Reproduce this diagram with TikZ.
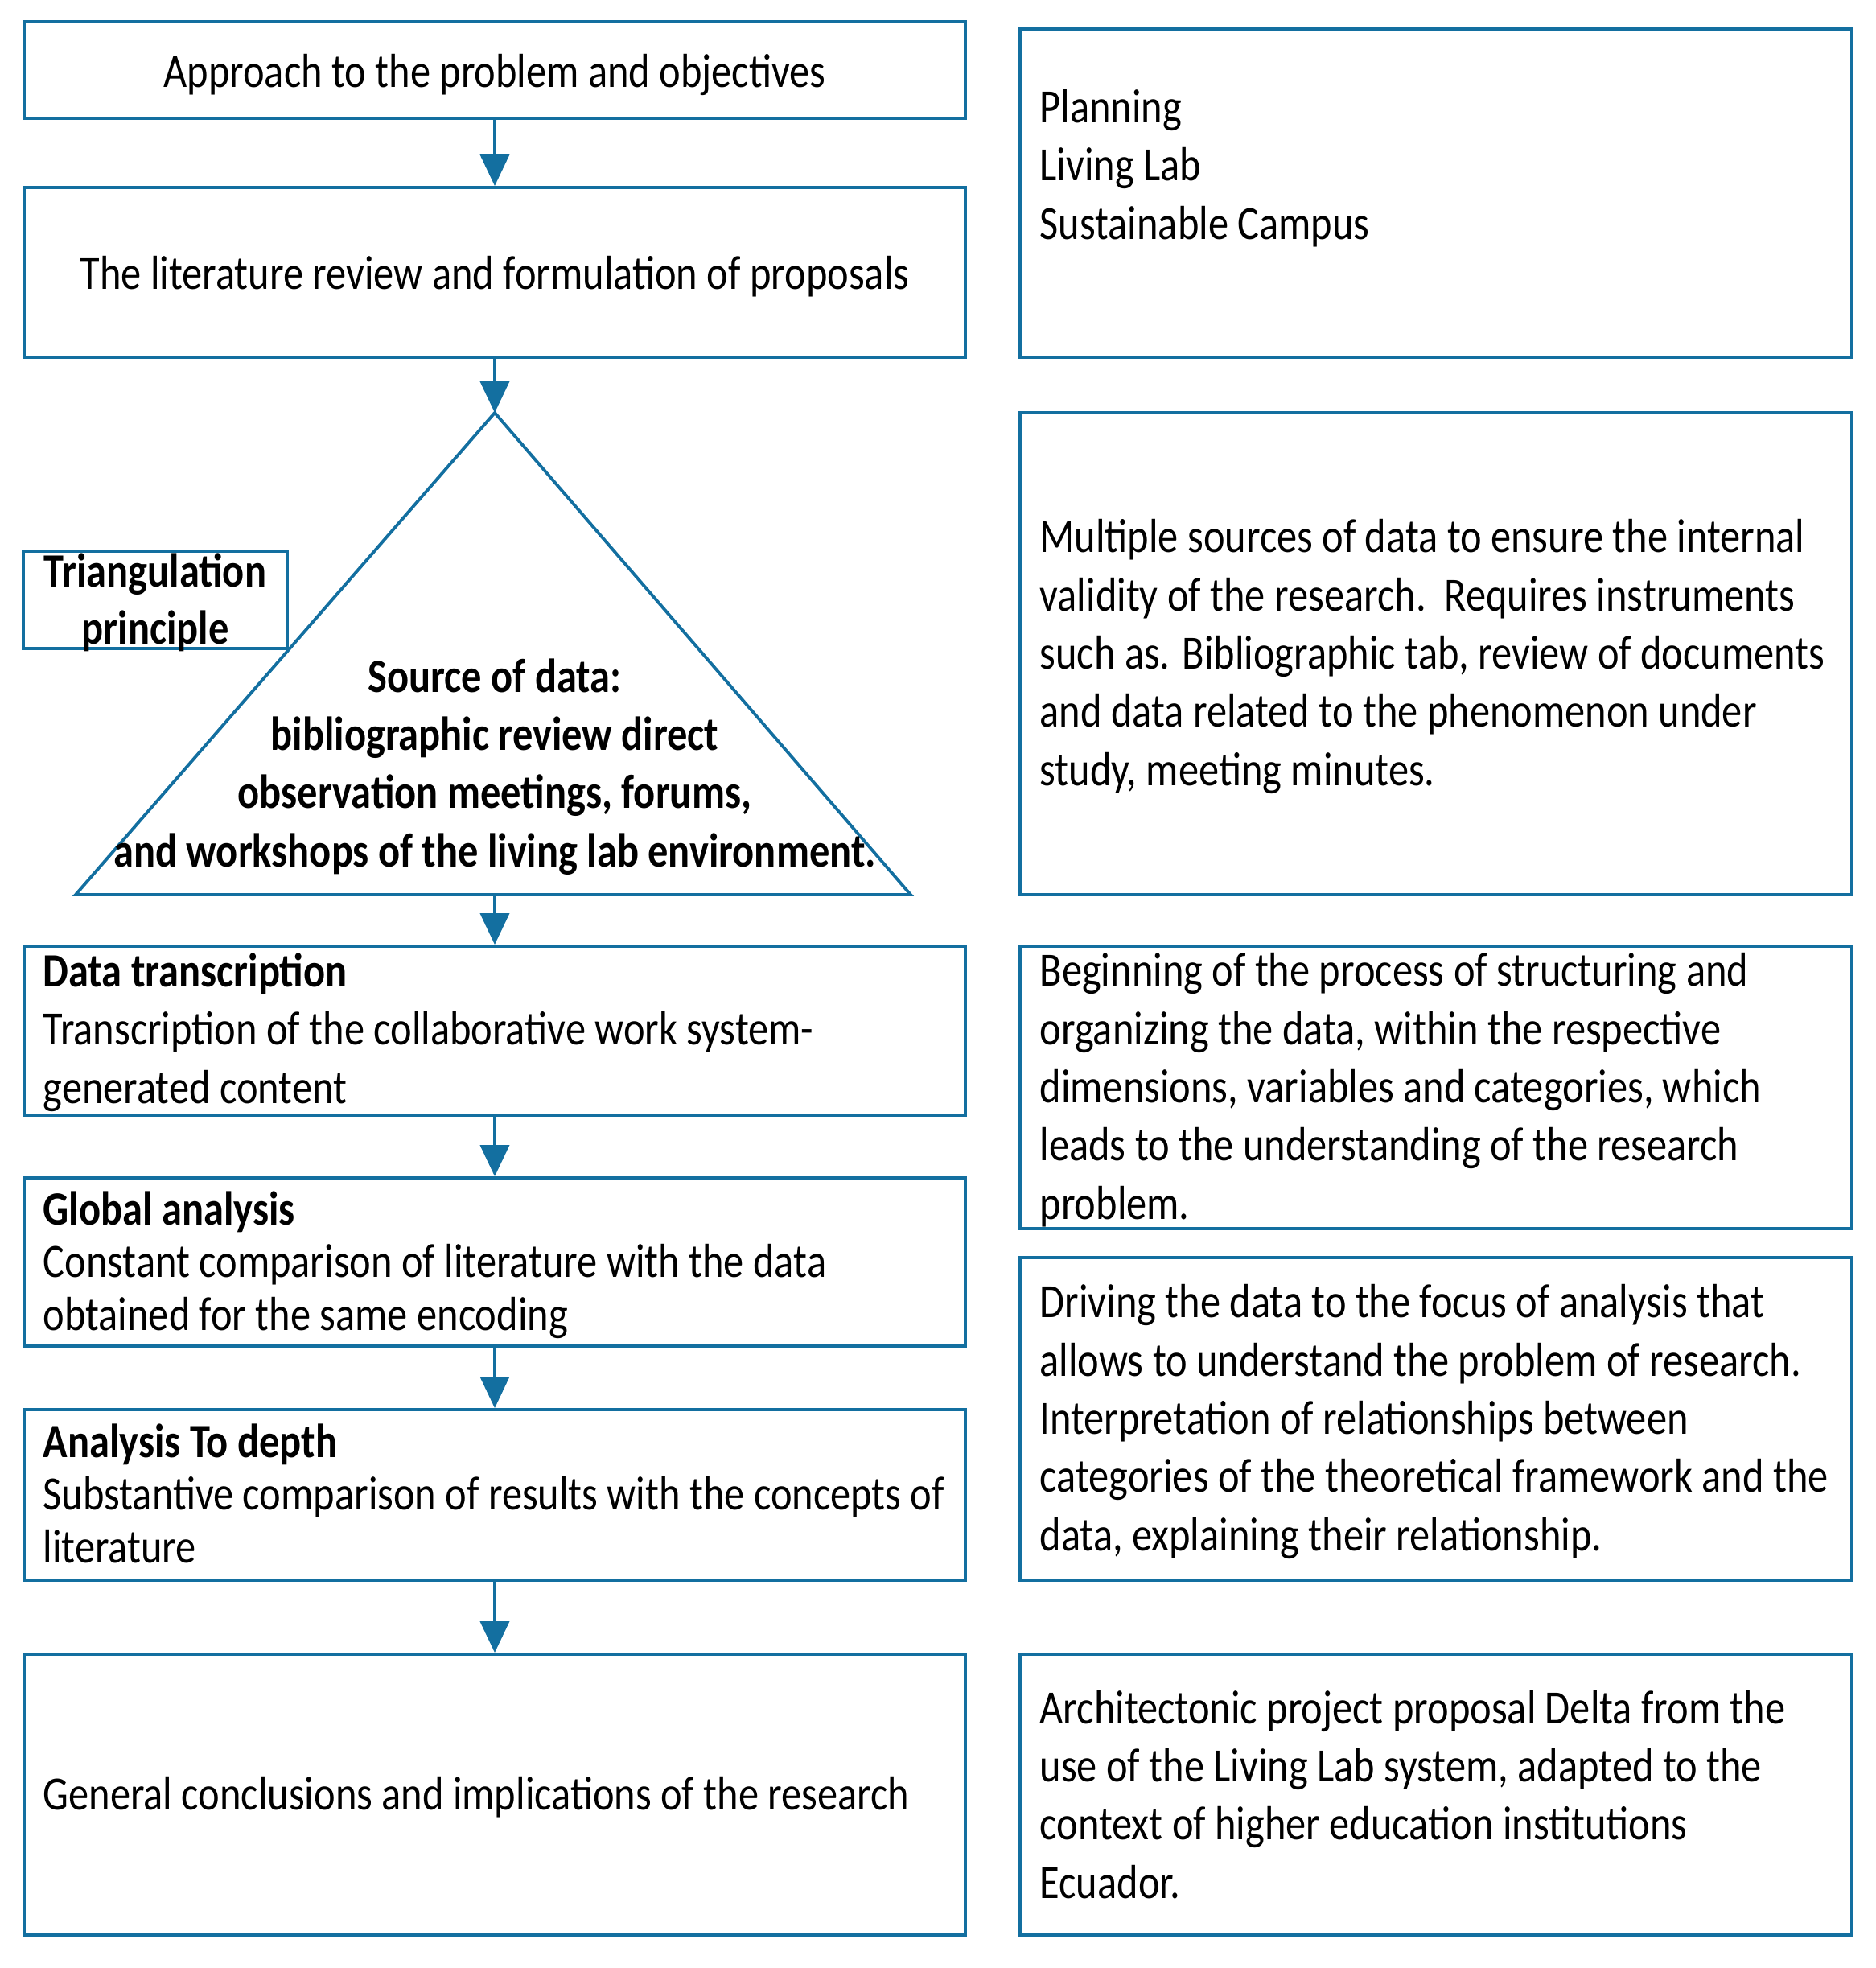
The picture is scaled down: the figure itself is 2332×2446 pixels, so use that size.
\documentclass[tikz,border=0pt]{standalone}
\usepackage{fontspec}
\setmainfont{Carlito}[FakeStretch=0.85]
\usetikzlibrary{arrows.meta,fit}
\definecolor{frameblue}{HTML}{136FA0}
\begin{document}
\begin{tikzpicture}[x=0.3pt,y=-0.3pt,
  box/.style={draw=frameblue,line width=1.15pt,inner sep=0pt,rectangle},
  txt/.style={font=\fontsize{17.8pt}{21.7pt}\selectfont,inner sep=0pt,align=left,anchor=base west},
  txtt/.style={font=\fontsize{17.8pt}{19.6pt}\selectfont,inner sep=0pt,align=left,anchor=base west},
  txtc/.style={font=\fontsize{17.8pt}{21.7pt}\selectfont,inner sep=0pt,align=center,anchor=base},
  arr/.style={draw=frameblue,line width=1.15pt,-{Triangle[width=10.8pt,length=11.7pt]}}]
\useasboundingbox (0,0) rectangle (2332,2446);

% left column boxes
\node[box,fit={(30,27)(1200,147)}] (b1) {};
\node[box,fit={(30,233)(1200,444)}] (b2) {};
\node[box,fit={(30,1176)(1200,1386)}] (dt) {};
\node[box,fit={(30,1464)(1200,1673)}] (ga) {};
\node[box,fit={(30,1752)(1200,1964)}] (ad) {};
\node[box,fit={(30,2056)(1200,2405)}] (gc) {};

% right column boxes
\node[box,fit={(1268,36)(2302,444)}] (r1) {};
\node[box,fit={(1268,513)(2302,1112)}] (r2) {};
\node[box,fit={(1268,1176)(2302,1527)}] (r3) {};
\node[box,fit={(1268,1563)(2302,1964)}] (r4) {};
\node[box,fit={(1268,2056)(2302,2405)}] (r5) {};

% triangle
\coordinate (apex) at (615,513);
\coordinate (tl) at (94,1112);
\coordinate (tr) at (1132,1112);
\coordinate (tb) at (615,1112);
\draw[frameblue,line width=1.15pt,line join=miter] (apex) -- (tr) -- (tl) -- cycle;

% triangulation box
\node[box,fit={(29,685)(357,806)}] (tp) {};

% texts (anchor = baseline of the last line)
\node[txtc] (t1) at (615,108) {Approach to the problem and objectives};
\node[txtc] (t2) at (615,359) {The literature review and formulation of proposals};
\node[txtc,font=\fontsize{17.8pt}{21.3pt}\selectfont\bfseries] (ttp) at (193,800) {Triangulation\\principle};
\node[txtc,font=\fontsize{17.8pt}{21.7pt}\selectfont\bfseries] (ttr) at (615,1077) {Source of data:\\bibliographic review direct\\observation meetings, forums,\\and workshops of the living lab environment.};
\node[txt] (tdt) at (53,1371) {\textbf{Data transcription}\\Transcription of the collaborative work system-\\generated content};
\node[txtt] (tga) at (53,1653) {\textbf{Global analysis}\\Constant comparison of literature with the data\\obtained for the same encoding};
\node[txtt] (tad) at (53,1942) {\textbf{Analysis To depth}\\Substantive comparison of results with the concepts of\\literature};
\node[txt] (tgc) at (53,2249) {General conclusions and implications of the research};

\node[txt] (tr1) at (1292,297) {Planning\\Living Lab\\Sustainable Campus};
\node[txt] (tr2) at (1292,976) {Multiple sources of data to ensure the internal\\validity of the research.\ \ Requires instruments\\such as. Bibliographic tab, review of documents\\and data related to the phenomenon under\\study, meeting minutes.};
\node[txt] (tr3) at (1292,1515) {Beginning of the process of structuring and\\organizing the data, within the respective\\dimensions, variables and categories, which\\leads to the understanding of the research\\problem.};
\node[txt] (tr4) at (1292,1927) {Driving the data to the focus of analysis that\\allows to understand the problem of research.\\Interpretation of relationships between\\categories of the theoretical framework and the\\data, explaining their relationship.};
\node[txt] (tr5) at (1292,2359) {Architectonic project proposal Delta from the\\use of the Living Lab system, adapted to the\\context of higher education institutions\\Ecuador.};

% arrows
\draw[arr] (b1.south) -- (b2.north);
\draw[arr] (b2.south) -- (apex);
\draw[arr] (tb) -- (dt.north);
\draw[arr] (dt.south) -- (ga.north);
\draw[arr] (ga.south) -- (ad.north);
\draw[arr] (ad.south) -- (gc.north);
\end{tikzpicture}
\end{document}
